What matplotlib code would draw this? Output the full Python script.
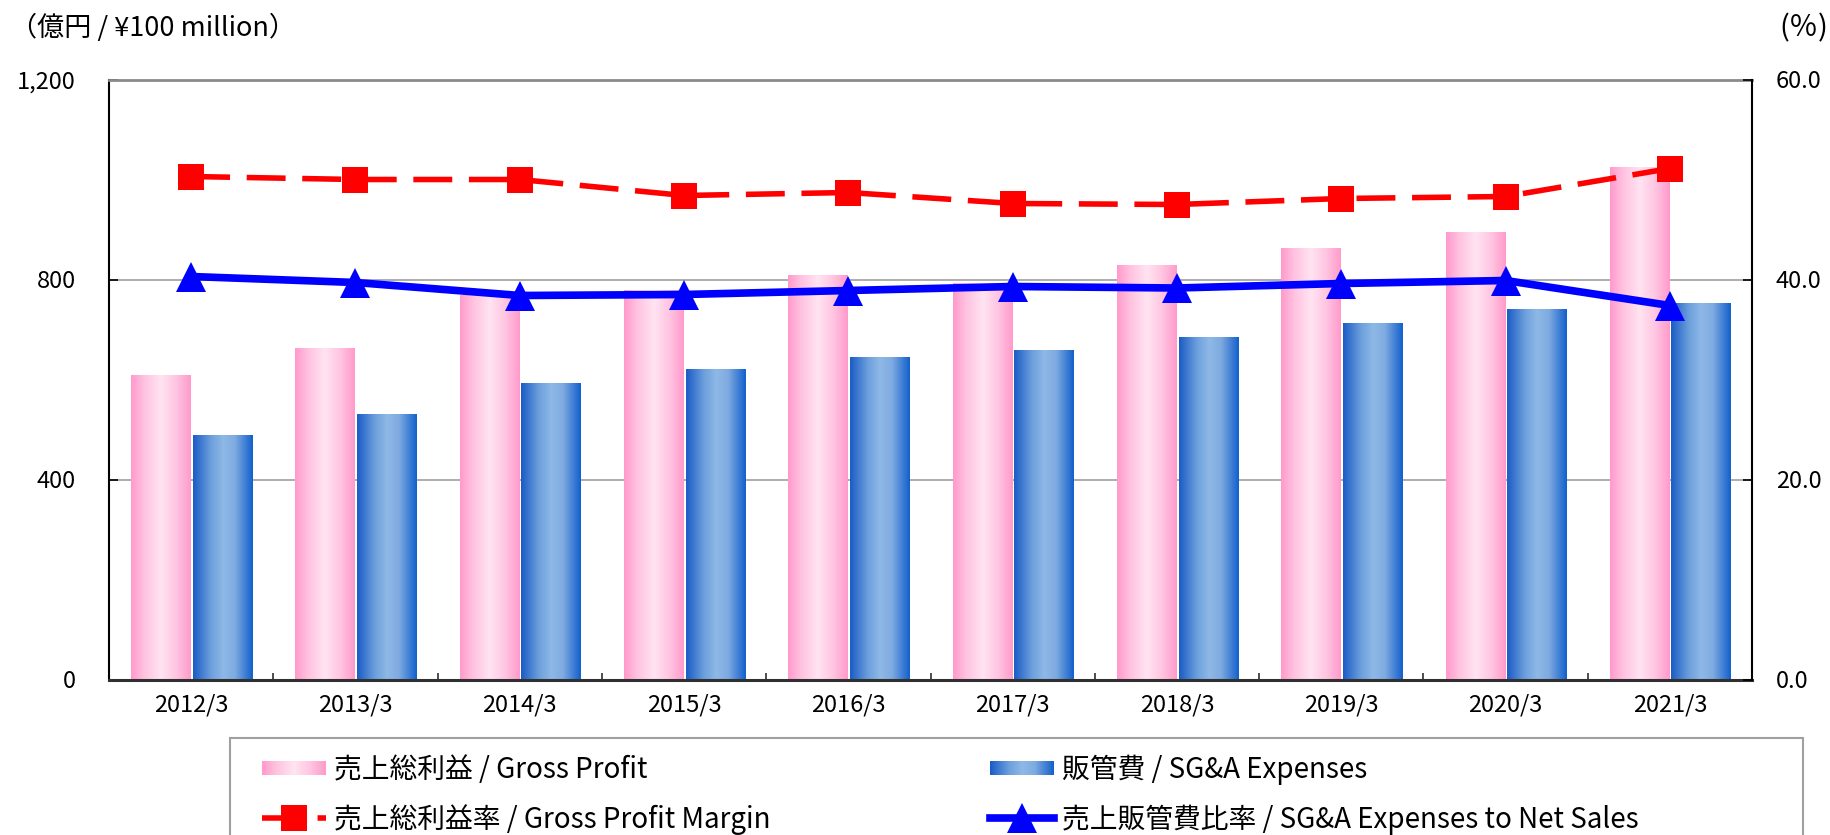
import numpy as np
import matplotlib
matplotlib.use('Agg')
import matplotlib.pyplot as plt
from matplotlib.colors import LinearSegmentedColormap
from matplotlib.legend_handler import HandlerBase
from matplotlib.image import BboxImage
from matplotlib.transforms import Bbox, TransformedBbox
from matplotlib.patches import Rectangle

plt.rcParams['font.family'] = ['Noto Sans CJK JP', 'DejaVu Sans']

# ---------------- data ----------------
categories = ['2012/3', '2013/3', '2014/3', '2015/3', '2016/3',
              '2017/3', '2018/3', '2019/3', '2020/3', '2021/3']
gross_profit = [607, 662, 768, 777, 807, 792, 827, 861, 893, 1023]
sga_expenses = [487, 529, 591, 620, 643, 657, 683, 711, 739, 751]
gross_margin = [50.3, 50.0, 50.0, 48.4, 48.7, 47.6, 47.5, 48.1, 48.3, 51.1]
sga_ratio = [40.3, 39.7, 38.4, 38.5, 38.9, 39.3, 39.15, 39.6, 39.9, 37.4]

left_ticks = [0, 400, 800, 1200]
left_tick_labels = ['0', '400', '800', '1,200']
right_ticks = [0, 20, 40, 60]
right_tick_labels = ['0.0', '20.0', '40.0', '60.0']

label_gp = '売上総利益 / Gross Profit'
label_sga = '販管費 / SG&A Expenses'
label_gpm = '売上総利益率 / Gross Profit Margin'
label_sgr = '売上販管費比率 / SG&A Expenses to Net Sales'
left_unit = '（億円 / ¥100 million）'
right_unit = '(％)'

# ---------------- style ----------------
pink_cmap = LinearSegmentedColormap.from_list(
    'pinkgrad', [(0.0, '#FF99CB'), (0.22, '#FFC2E0'), (0.5, '#FFE4F1'),
                 (0.75, '#FFC6E2'), (1.0, '#FF99CB')])
blue_cmap = LinearSegmentedColormap.from_list(
    'bluegrad', [(0.0, '#1A5CC6'), (0.3, '#6C9FDC'), (0.5, '#8EB8E6'),
                 (0.7, '#7FABE0'), (1.0, '#1260CC')])

W, H = 1830, 835
fig = plt.figure(figsize=(W / 100, H / 100), dpi=100)
ax = fig.add_axes([109 / W, 1 - 679.5 / H, (1752 - 109) / W, (679.5 - 79.5) / H])

x = np.arange(len(categories))
bw = 0.362
bars_gp = ax.bar(x - 0.365, gross_profit, width=bw, align='edge', color='none', linewidth=0)
bars_sga = ax.bar(x + 0.010, sga_expenses, width=bw, align='edge', color='none', linewidth=0)

grad = np.linspace(0, 1, 256).reshape(1, -1)
for bars, cmap in ((bars_gp, pink_cmap), (bars_sga, blue_cmap)):
    for r in bars:
        x0, w, h = r.get_x(), r.get_width(), r.get_height()
        ax.imshow(grad, cmap=cmap, extent=(x0, x0 + w, 0, h), aspect='auto',
                  interpolation='bicubic', zorder=2, vmin=0, vmax=1)

ax.set_xlim(-0.5, len(categories) - 0.5)
ax.set_ylim(0, 1200)
ax.set_yticks(left_ticks, labels=left_tick_labels)
ax.set_xticks(x, labels=categories)
ax.set_xticks(np.arange(0.5, len(categories) - 0.5, 1), minor=True)
ax.tick_params(axis='y', direction='in', length=6.5, width=1.2, pad=24, labelsize=17, colors='black')
ax.tick_params(axis='x', which='major', length=0, pad=10, labelsize=17)
ax.tick_params(axis='x', which='minor', direction='in', length=5, width=1.2, color='#303030')
ax.set_axisbelow(True)
ax.yaxis.grid(True, color='#A0A0A0', linewidth=1.2)
ax.spines['top'].set_color('#8A8A8A')
ax.spines['top'].set_linewidth(2)
ax.spines['left'].set_color('black')
ax.spines['left'].set_linewidth(1.5)
ax.spines['bottom'].set_color('#303030')
ax.spines['bottom'].set_linewidth(2.2)
ax.spines['right'].set_visible(False)

ax2 = ax.twinx()
ax2.set_ylim(0, 60)
ax2.set_yticks(right_ticks, labels=right_tick_labels)
ax2.tick_params(axis='y', direction='in', length=6.5, width=1.2, pad=17, labelsize=17)
for s in ('top', 'left', 'bottom'):
    ax2.spines[s].set_visible(False)
ax2.spines['right'].set_color('black')
ax2.spines['right'].set_linewidth(1.5)

line_gpm, = ax2.plot(x, gross_margin, color='#FF0000', linewidth=4, dashes=(7, 3),
                     marker='s', markersize=19, markeredgewidth=0, label=label_gpm)
line_sgr, = ax2.plot(x, sga_ratio, color='#0000FF', linewidth=5.5,
                     marker='^', markersize=21, markeredgewidth=0, label=label_sgr)

# units
fig.text(10 / W, 1 - 28 / H, left_unit, fontsize=19.5, ha='left', va='center')
fig.text(1828 / W, 1 - 28 / H, right_unit, fontsize=21, ha='right', va='center')


# ---------------- legend ----------------
class GradHandler(HandlerBase):
    def __init__(self, cmap):
        super().__init__()
        self.cmap = cmap

    def create_artists(self, legend, orig_handle, xdescent, ydescent, width, height, fontsize, trans):
        ph = fontsize * 0.5
        bb = Bbox.from_bounds(-xdescent, -ydescent + (height - ph) / 2, width, ph)
        img = BboxImage(TransformedBbox(bb, trans), cmap=self.cmap, interpolation='bicubic')
        img.set_data(grad)
        img.set_clim(0, 1)
        return [img]


proxy_gp = Rectangle((0, 0), 1, 1, label=label_gp)
proxy_sga = Rectangle((0, 0), 1, 1, label=label_sga)

leg_kw = dict(loc='center left', frameon=False, fontsize=20, borderpad=0, borderaxespad=0,
              handlelength=2.3, handletextpad=0.3, labelspacing=0.7, numpoints=1)
leg1 = fig.legend(handles=[proxy_gp, line_gpm], bbox_to_anchor=(262 / W, 1 - 795 / H),
                  handler_map={proxy_gp: GradHandler(pink_cmap)}, **leg_kw)
leg2 = fig.legend(handles=[proxy_sga, line_sgr], bbox_to_anchor=(990 / W, 1 - 795 / H),
                  handler_map={proxy_sga: GradHandler(blue_cmap)}, **leg_kw)

fig.patches.append(Rectangle((230 / W, -0.02), (1803 - 230) / W, 0.02 + (835 - 738) / H,
                             transform=fig.transFigure, fill=False, edgecolor='#A0A0A0',
                             linewidth=1.5))

fig.savefig('out.png', dpi=100)
